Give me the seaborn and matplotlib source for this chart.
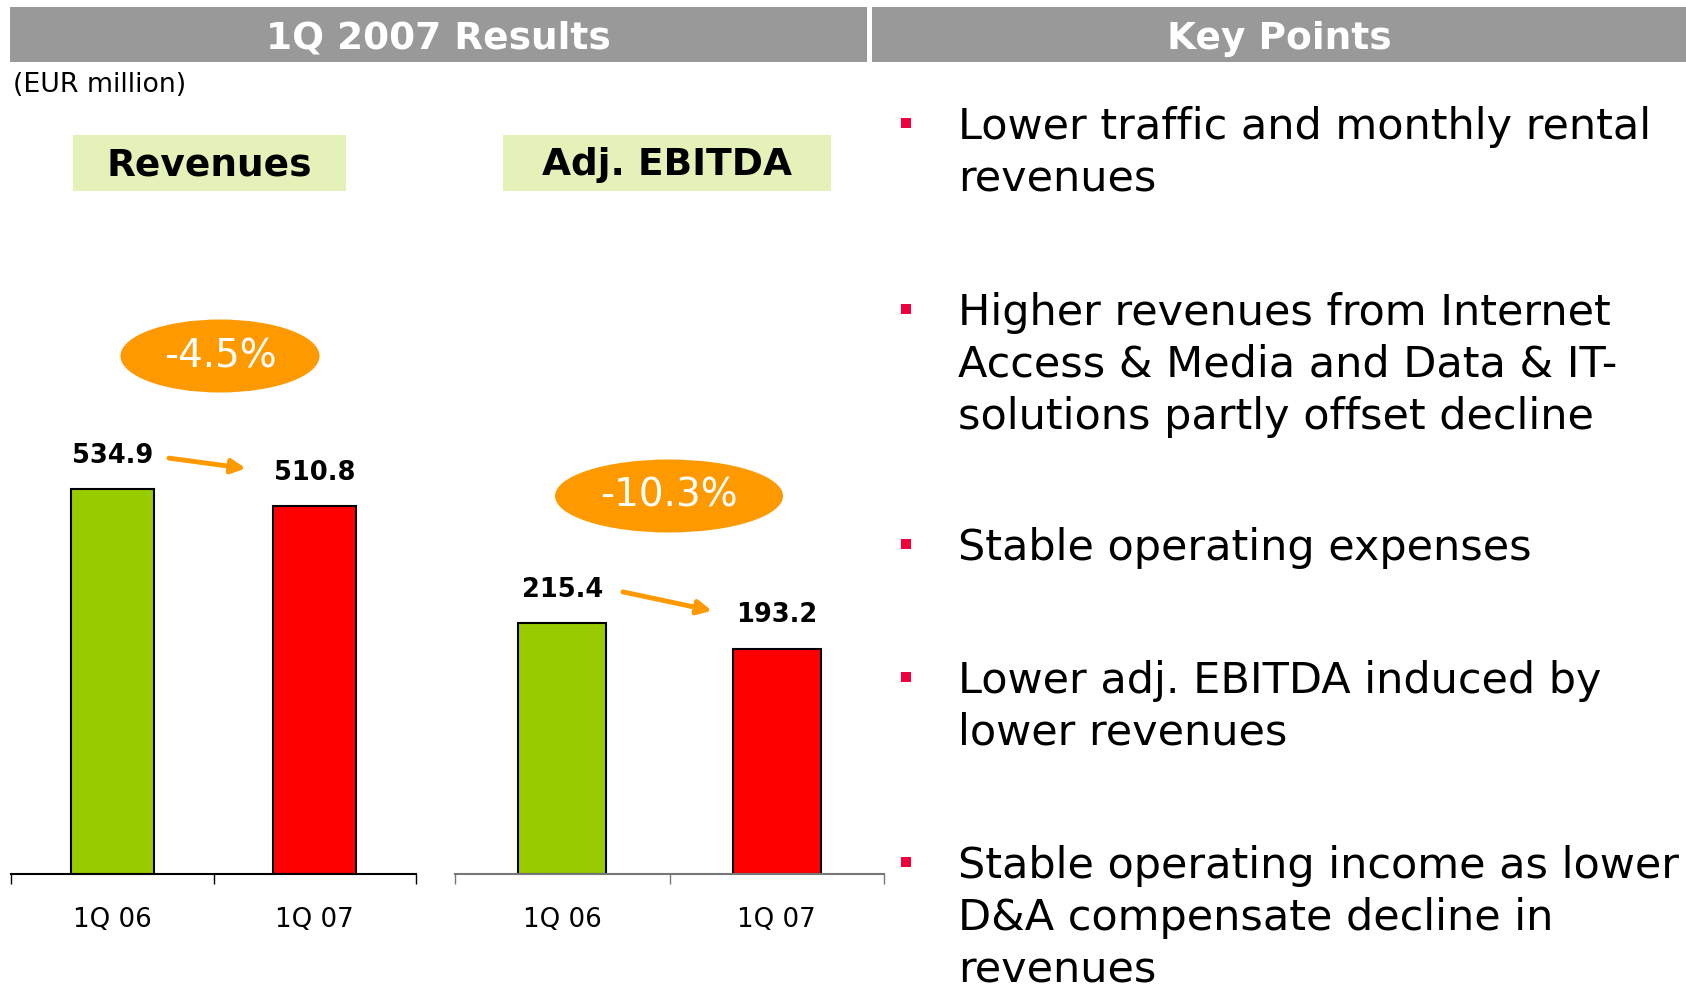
import numpy as np
import pandas as pd
import matplotlib
matplotlib.use('Agg')
import matplotlib.pyplot as plt
import matplotlib.transforms as mtransforms
from matplotlib.patches import Rectangle, Ellipse
import seaborn as sns

# Datos del gráfico
quarters = ['1Q 06', '1Q 07']
revenues = [534.9, 510.8]
adj_ebitda = [215.4, 193.2]
panel_titles = ['Revenues', 'Adj. EBITDA']
key_points = [
    'Lower traffic and monthly rental\nrevenues',
    'Higher revenues from Internet\nAccess & Media and Data & IT-\nsolutions partly offset decline',
    'Stable operating expenses',
    'Lower adj. EBITDA induced by\nlower revenues',
    'Stable operating income as lower\nD&A compensate decline in\nrevenues',
]

GREEN = '#99CC00'
RED = '#FF0000'
ORANGE = '#FF9900'
GREY = '#999999'
LIGHT_GREEN = '#E4F2B9'
BULLET_RED = '#F0003C'

W, H = 1686, 984
sns.set_theme(style='white')
plt.rcParams['font.family'] = ['DejaVu Sans']
plt.rcParams['text.color'] = 'black'
plt.rcParams['xtick.color'] = 'black'

fig = plt.figure(figsize=(W / 100, H / 100), dpi=100)


def fx(px):
    return px / W


def fy(py):
    return 1 - py / H


# Barras de cabecera
for x0, x1, title in [(10, 867, '1Q 2007 Results'), (872, 1686, 'Key Points')]:
    fig.add_artist(Rectangle((fx(x0), fy(62)), (x1 - x0) / W, 55 / H,
                             transform=fig.transFigure, color=GREY, lw=0))
    fig.text(fx((x0 + x1) / 2), fy(39), title, ha='center', va='center',
             color='white', fontsize=27, fontweight='bold')

fig.text(fx(13), fy(85), '(EUR million)', ha='left', va='center', fontsize=19.3)

# Títulos de los paneles
for (x0, x1), title in zip([(73, 346), (503, 831)], panel_titles):
    fig.add_artist(Rectangle((fx(x0), fy(191)), (x1 - x0) / W, 56 / H,
                             transform=fig.transFigure, color=LIGHT_GREEN, lw=0))
    fig.text(fx((x0 + x1) / 2), fy(165), title, ha='center', va='center',
             color='black', fontsize=27, fontweight='bold')


def draw_panel(ax, values, ymax, arrow_x, spine_color, ellipse):
    df = pd.DataFrame({'quarter': quarters, 'value': values})
    sns.barplot(data=df, x='quarter', y='value', hue='quarter',
                palette=[GREEN, RED], saturation=1, width=0.41,
                edgecolor='black', linewidth=1.5, legend=False, ax=ax)
    ax.set_xlim(-0.5, 1.5)
    ax.set_ylim(0, ymax)
    ax.set_xlabel('')
    ax.set_ylabel('')
    ax.set_yticks([])
    for s in ['left', 'top', 'right']:
        ax.spines[s].set_visible(False)
    ax.spines['bottom'].set_color(spine_color)
    ax.spines['bottom'].set_linewidth(1.5)
    ax.set_xticks([-0.5, 0.5, 1.5], minor=True)
    ax.tick_params(axis='x', which='major', length=0, pad=24, labelsize=18.8,
                   labelcolor='black')
    ax.tick_params(axis='x', which='minor', bottom=True, length=7,
                   width=1, color=spine_color, direction='out')
    ax.patch.set_alpha(0)

    # Etiquetas de valor
    for i, v in enumerate(values):
        ax.annotate(f'{v:.1f}', xy=(i, v), xytext=(0, 24),
                    textcoords='offset points', ha='center', va='center',
                    fontsize=18.5, fontweight='bold', color='black')

    # Flecha de variación
    t_start = mtransforms.offset_copy(ax.transData, fig=fig, x=0, y=31, units='dots')
    t_end = mtransforms.offset_copy(ax.transData, fig=fig, x=0, y=38, units='dots')
    ax.annotate('', xy=(arrow_x[1], values[1]), xycoords=t_end,
                xytext=(arrow_x[0], values[0]), textcoords=t_start,
                arrowprops=dict(arrowstyle='-|>,head_length=0.7,head_width=0.35',
                                color=ORANGE, lw=3.5, shrinkA=0, shrinkB=0))

    # Elipse con el porcentaje
    cx, cy, ew, eh = ellipse
    fig.add_artist(Ellipse((fx(cx), fy(cy)), ew / W, eh / H,
                           transform=fig.transFigure, color=ORANGE, lw=0))
    change = (values[1] / values[0] - 1) * 100
    fig.text(fx(cx), fy(cy), f'{change:.1f}%', ha='center', va='center',
             color='white', fontsize=28)


ax1 = fig.add_axes([fx(11), fy(874), 405 / W, 626 / H])
draw_panel(ax1, revenues, 870, (0.28, 0.66), 'black', (220, 356, 199, 73))

ax2 = fig.add_axes([fx(455), fy(874), 429 / W, 626 / H])
draw_panel(ax2, adj_ebitda, 537, (0.283, 0.698), '#777777', (669, 496, 228, 73))

# Puntos clave
bullet_y = [123, 309, 544, 677, 862]
for by, txt in zip(bullet_y, key_points):
    fig.add_artist(Rectangle((fx(901), fy(by + 5)), 10 / W, 10 / H,
                             transform=fig.transFigure, color=BULLET_RED, lw=0))
    fig.text(fx(958), fy(by - 17), txt, ha='left', va='top',
             fontsize=31, linespacing=1.3)

plt.savefig('out.png', dpi=100)
